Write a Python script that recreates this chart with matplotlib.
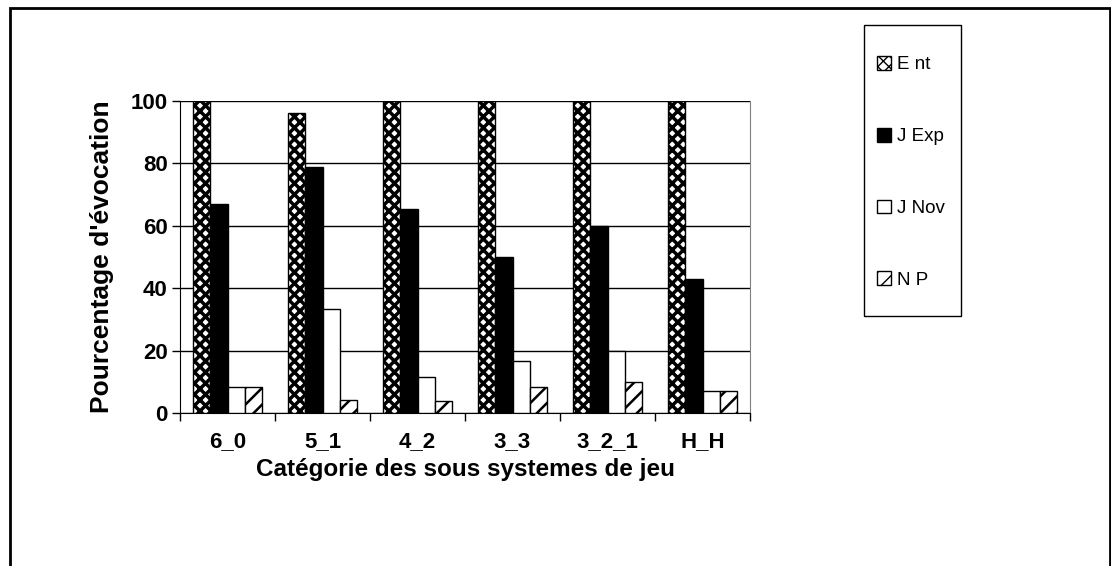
import matplotlib
matplotlib.use("Agg")
import matplotlib.pyplot as plt
import numpy as np
from matplotlib.patches import Rectangle, Patch

plt.rcParams['font.family'] = ['Liberation Sans', 'DejaVu Sans']

categories = ["6_0", "5_1", "4_2", "3_3", "3_2_1", "H_H"]
ent = [100, 96, 100, 100, 100, 100]
j_exp = [67, 79, 65.5, 50, 60, 43]
j_nov = [8.3, 33.3, 11.5, 16.7, 20, 7]
n_p = [8.3, 4.2, 4, 8.3, 10, 7]
series_names = ["E nt", "J Exp", "J Nov", "N P"]

W, H = 1111, 566
fig = plt.figure(figsize=(W / 100, H / 100), dpi=100)

# outer frame (bottom edge is cut off in the original)
fig.patches.append(Rectangle((10 / W, -0.05), 1100 / W, 1 - 8 / H + 0.05,
                             transform=fig.transFigure, fill=False,
                             edgecolor='black', linewidth=2))

ax = fig.add_axes([180 / W, 1 - 413 / H, 570 / W, 312 / H])

x = np.arange(len(categories))
w = 0.18
off = [-1.5 * w, -0.5 * w, 0.5 * w, 1.5 * w]

# Ent: dense black lattice with white holes
with plt.rc_context({'hatch.linewidth': 2.5}):
    ax.bar(x + off[0], ent, w, color='white', edgecolor='black', hatch='xxx', linewidth=1, zorder=3)
    ent_handle = Patch(facecolor='white', edgecolor='black', hatch='xxx', linewidth=1)
ax.bar(x + off[1], j_exp, w, color='black', edgecolor='black', linewidth=1, zorder=3)
ax.bar(x + off[2], j_nov, w, color='white', edgecolor='black', linewidth=1, zorder=3)
with plt.rc_context({'hatch.linewidth': 1.8}):
    ax.bar(x + off[3], n_p, w, color='white', edgecolor='black', hatch='//', linewidth=1, zorder=3)
    np_handle = Patch(facecolor='white', edgecolor='black', hatch='//', linewidth=1)

ax.set_xlim(-0.5, len(categories) - 0.5)
ax.set_ylim(0, 100)
ax.set_yticks(range(0, 101, 20))
ax.yaxis.grid(True, color='black', linewidth=1, zorder=0)
ax.set_axisbelow(True)
ax.set_xticks(np.arange(-0.5, len(categories), 1.0))
ax.set_xticklabels([])
ax.set_xticks(x, minor=True)
ax.set_xticklabels(categories, minor=True)
ax.tick_params(axis='x', which='major', direction='out', length=6, width=1)
ax.tick_params(axis='x', which='minor', length=0, pad=13, labelsize=16)
ax.tick_params(axis='y', direction='out', length=6, width=1, labelsize=16, pad=3)
for lab in ax.get_xticklabels(minor=True) + ax.get_yticklabels():
    lab.set_fontweight('bold')

ax.spines['left'].set_color('black')
ax.spines['bottom'].set_color('black')
ax.spines['top'].set_visible(False)
ax.spines['right'].set_color('#808080')

ax.set_xlabel("Catégorie des sous systemes de jeu", fontsize=17.5, fontweight='bold', labelpad=4)
ax.set_ylabel("Pourcentage d'évocation", fontsize=19, fontweight='bold', labelpad=12)

# legend frame drawn separately to match the tall narrow box
fig.patches.append(Rectangle((864 / W, 1 - 316 / H), 97 / W, 291 / H,
                             transform=fig.transFigure, fill=False,
                             edgecolor='black', linewidth=1))
handles = [
    ent_handle,
    Patch(facecolor='black', edgecolor='black'),
    Patch(facecolor='white', edgecolor='black'),
    np_handle,
]
leg = fig.legend(handles, series_names, loc='upper left',
                 bbox_to_anchor=(877 / W, 1 - 56 / H), fontsize=13.5,
                 frameon=False, handlelength=0.75, handleheight=0.75,
                 handletextpad=0.3, labelspacing=2.9, borderpad=0,
                 borderaxespad=0)

fig.savefig("out.png", dpi=100)
